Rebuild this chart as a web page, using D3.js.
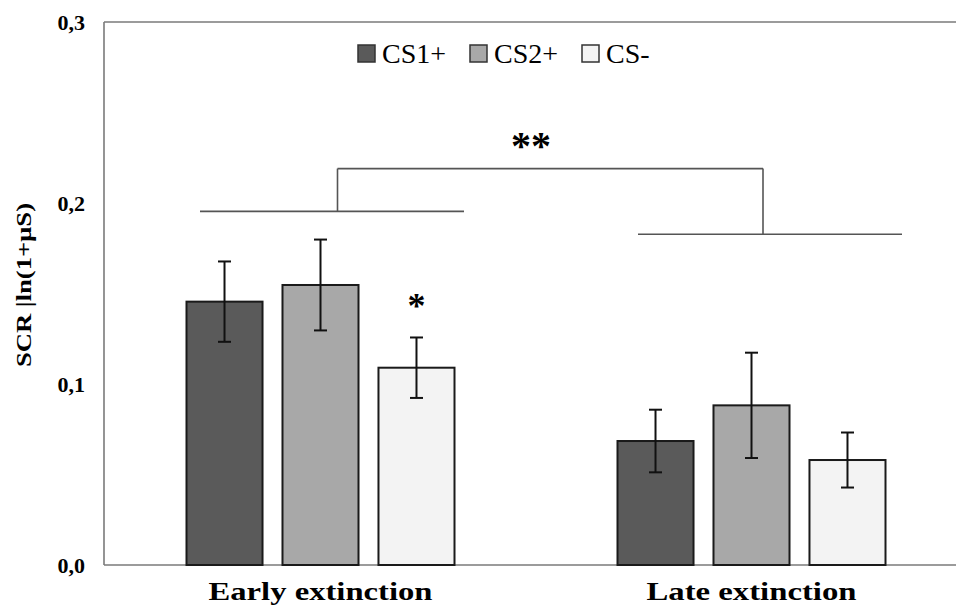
<!DOCTYPE html>
<html>
<head>
<meta charset="utf-8">
<script src="https://cdn.jsdelivr.net/npm/d3@7"></script>
<style>
  html, body { margin: 0; padding: 0; background: #fff; }
  svg { display: block; }
</style>
</head>
<body>
<div id="chart"></div>
<script>
// Data
const groups = ['Early extinction', 'Late extinction'];
const series = ['CS1+', 'CS2+', 'CS-'];
const means = [
  [0.1455, 0.1547, 0.1090],
  [0.0685, 0.0882, 0.0580]
];
const errors = [
  [0.0222, 0.0251, 0.0167],
  [0.0173, 0.0291, 0.0152]
];
const yTicks = [0, 0.1, 0.2, 0.3];
const groupBrackets = [0.1954, 0.1827]; // horizontal line over each group
const bracketTop = 0.219;               // joining line
const colors = ['#5a5a5a', '#a8a8a8', '#f3f3f3'];

const W = 956, H = 611;
const serif = '"Liberation Serif", "Times New Roman", serif';

const svg = d3.select('#chart').append('svg')
  .attr('width', W)
  .attr('height', H);

const x0 = d3.scaleBand().domain(groups).range([105, 967]);
const x1 = d3.scaleBand().domain(series)
  .range([x0.bandwidth() / 2 - 134, x0.bandwidth() / 2 + 134])
  .paddingInner(0.208);
const y = d3.scaleLinear().domain([0, 0.3]).range([565, 22]);

// Frame: left, top, bottom
const frame = svg.append('g').attr('stroke', '#7a7a7a').attr('stroke-width', 1.6);
frame.append('line').attr('x1', 104).attr('x2', 104).attr('y1', y(0.3)).attr('y2', y(0));
frame.append('line').attr('x1', 104).attr('x2', W).attr('y1', y(0.3)).attr('y2', y(0.3));
frame.append('line').attr('x1', 104).attr('x2', W).attr('y1', y(0)).attr('y2', y(0));

// Y axis labels
const yAxis = svg.append('g')
  .attr('transform', 'translate(104,0)')
  .call(d3.axisLeft(y).tickValues(yTicks).tickSize(0).tickPadding(19)
    .tickFormat(d => d3.format('.1f')(d).replace('.', ',')));
yAxis.select('.domain').remove();
yAxis.selectAll('text')
  .attr('font-family', serif)
  .attr('font-size', 22)
  .attr('font-weight', 'bold')
  .attr('fill', '#000');

svg.append('text')
  .attr('transform', `translate(31,${285}) rotate(-90)`)
  .attr('text-anchor', 'middle')
  .attr('font-family', serif)
  .attr('font-size', 22)
  .attr('font-weight', 'bold')
  .attr('textLength', 164)
  .attr('lengthAdjust', 'spacingAndGlyphs')
  .text('SCR |ln(1+µS)');

// Bars
const rows = [];
groups.forEach((g, gi) => series.forEach((s, si) => {
  rows.push({ g, s, si, v: means[gi][si], e: errors[gi][si] });
}));

const barG = svg.append('g');
barG.selectAll('rect')
  .data(rows)
  .join('rect')
  .attr('x', d => x0(d.g) + x1(d.s))
  .attr('y', d => y(d.v))
  .attr('width', x1.bandwidth())
  .attr('height', d => y(0) - y(d.v))
  .attr('fill', d => colors[d.si])
  .attr('stroke', '#1a1a1a')
  .attr('stroke-width', 2);

// Error bars
const cx = d => x0(d.g) + x1(d.s) + x1.bandwidth() / 2;
const errG = barG.append('g').attr('stroke', '#111').attr('stroke-width', 2);
errG.selectAll('line.stem').data(rows).join('line').attr('class', 'stem')
  .attr('x1', cx).attr('x2', cx)
  .attr('y1', d => y(d.v + d.e)).attr('y2', d => y(d.v - d.e));
errG.selectAll('line.capT').data(rows).join('line').attr('class', 'capT')
  .attr('x1', d => cx(d) - 6.5).attr('x2', d => cx(d) + 6.5)
  .attr('y1', d => y(d.v + d.e)).attr('y2', d => y(d.v + d.e));
errG.selectAll('line.capB').data(rows).join('line').attr('class', 'capB')
  .attr('x1', d => cx(d) - 6.5).attr('x2', d => cx(d) + 6.5)
  .attr('y1', d => y(d.v - d.e)).attr('y2', d => y(d.v - d.e));

// Significance brackets
const mid = g => x0(g) + x0.bandwidth() / 2;
const lineShift = [11.5, 18.5];
const stemShift = [17, 11.5];
const br = svg.append('g').attr('stroke', '#555').attr('stroke-width', 1.6).attr('fill', 'none');
groups.forEach((g, gi) => {
  const c = mid(g) + lineShift[gi];
  br.append('line')
    .attr('x1', c - 132).attr('x2', c + 132)
    .attr('y1', y(groupBrackets[gi])).attr('y2', y(groupBrackets[gi]));
  br.append('line')
    .attr('x1', mid(g) + stemShift[gi]).attr('x2', mid(g) + stemShift[gi])
    .attr('y1', y(groupBrackets[gi])).attr('y2', y(bracketTop));
});
br.append('line')
  .attr('x1', mid(groups[0]) + stemShift[0]).attr('x2', mid(groups[1]) + stemShift[1])
  .attr('y1', y(bracketTop)).attr('y2', y(bracketTop));

svg.append('text')
  .attr('x', x0(groups[1]) - 5)
  .attr('y', y(bracketTop) - 10)
  .attr('text-anchor', 'middle')
  .attr('font-family', serif)
  .attr('font-size', 40)
  .attr('font-weight', 'bold')
  .text('**');

const starRow = rows.find(d => d.g === groups[0] && d.s === 'CS-');
svg.append('text')
  .attr('x', cx(starRow))
  .attr('y', y(starRow.v + starRow.e) - 19)
  .attr('text-anchor', 'middle')
  .attr('font-family', serif)
  .attr('font-size', 36)
  .attr('font-weight', 'bold')
  .text('*');

// Group labels
const labelWidths = [224, 210];
svg.append('g').selectAll('text')
  .data(groups)
  .join('text')
  .attr('x', d => mid(d))
  .attr('y', 600)
  .attr('text-anchor', 'middle')
  .attr('font-family', serif)
  .attr('font-size', 25)
  .attr('font-weight', 'bold')
  .attr('textLength', (d, i) => labelWidths[i])
  .attr('lengthAdjust', 'spacingAndGlyphs')
  .text(d => d);

// Legend
const legendX = [358, 470, 582];
const legend = svg.append('g').selectAll('g')
  .data(series)
  .join('g')
  .attr('transform', (d, i) => `translate(${legendX[i]},45)`);
legend.append('rect')
  .attr('width', 17).attr('height', 17)
  .attr('fill', (d, i) => colors[i])
  .attr('stroke', '#333')
  .attr('stroke-width', 1.5);
legend.append('text')
  .attr('x', 24)
  .attr('y', 17.5)
  .attr('font-family', serif)
  .attr('font-size', 28)
  .text(d => d);
</script>
</body>
</html>
